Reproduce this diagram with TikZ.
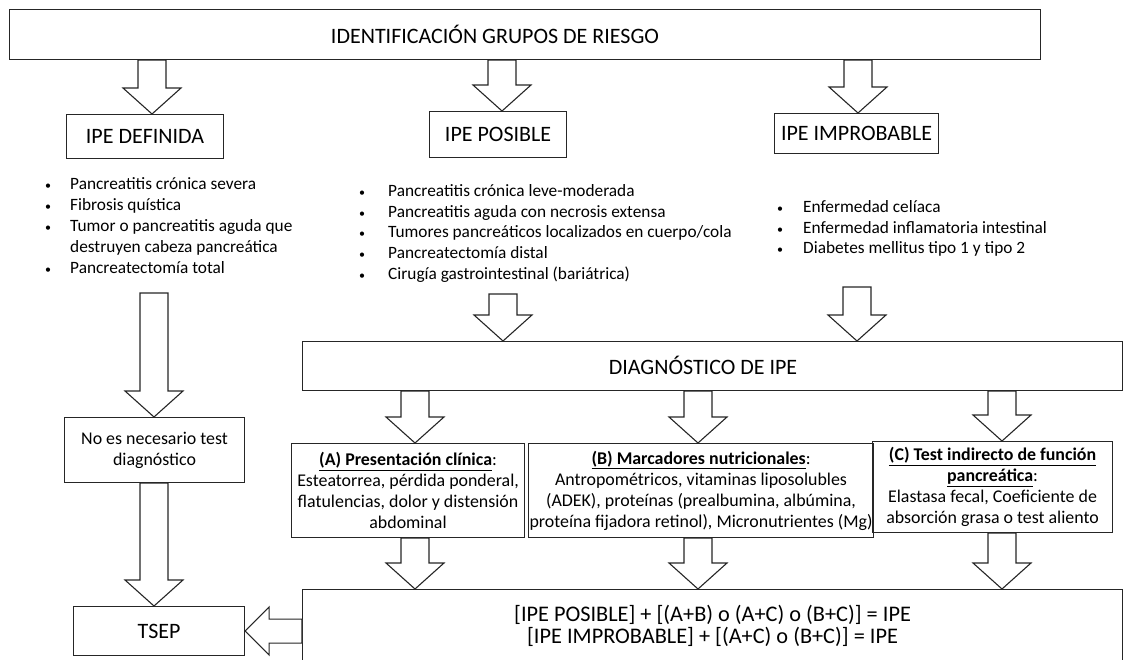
\documentclass[tikz,border=0pt]{standalone}
\usepackage{fontspec}
\setmainfont{Carlito}
\usepackage{tikz}
\usetikzlibrary{calc}

\newcommand{\headtxt}{\fontsize{22}{22}\selectfont}
\newcommand{\listtxt}{\fontsize{17.3}{21}\selectfont}
\newcommand{\boxtxt}{\fontsize{17.9}{21}\selectfont}

\tikzset{
  box/.style={draw=black!85, line width=1.1pt, inner sep=1pt, align=center, anchor=north west},
  blockdown/.style={draw=black!85, line width=1.1pt, fill=white,
    to path={let \p1=(\tikztostart), \p2=(\tikztotarget) in
      (\x2-14pt,\y1) -- (\x2-14pt,\y2+26pt) -- (\x2-29pt,\y2+26pt) -- (\x2,\y2)
      -- (\x2+29pt,\y2+26pt) -- (\x2+14pt,\y2+26pt) -- (\x2+14pt,\y1) -- cycle}},
  blockleft/.style={draw=black!85, line width=1.1pt, fill=white,
    to path={let \p1=(\tikztostart), \p2=(\tikztotarget) in
      (\x1,\y2+12pt) -- (\x2+24pt,\y2+12pt) -- (\x2+24pt,\y2+24pt) -- (\x2,\y2)
      -- (\x2+24pt,\y2-24pt) -- (\x2+24pt,\y2-12pt) -- (\x1,\y2-12pt) -- cycle}},
  bul/.style={font=\fontsize{12}{12}\selectfont, anchor=base},
  item/.style={font=\listtxt, anchor=base west, inner sep=0pt}
}

\begin{document}
\begin{tikzpicture}[x=1pt,y=-1pt]
  \useasboundingbox (0,0) rectangle (1125,659);

  % boxes
  \node[box, minimum width=1031, minimum height=50] (ident) at (9,9) {};
  \node[font=\headtxt] (identtxt) at (495,34) {IDENTIFICACIÓN GRUPOS DE RIESGO};
  \node[box, font=\headtxt, minimum width=157, minimum height=44] (defi) at (66,114) {IPE DEFINIDA};
  \node[box, font=\headtxt, minimum width=137, minimum height=46] (posi) at (429,111) {IPE POSIBLE};
  \node[box, font=\headtxt, minimum width=164, minimum height=40] (impro) at (774,113) {IPE IMPROBABLE};

  % lists
  \node[bul] (d1) at (48,189.5) {\textbullet};
  \node[item] (dt1) at (70,189.5) {Pancreatitis crónica severa};
  \node[bul] (d2) at (48,210.5) {\textbullet};
  \node[item] (dt2) at (70,210.5) {Fibrosis quística};
  \node[bul] (d3) at (48,231.5) {\textbullet};
  \node[item] (dt3) at (70,231.5) {Tumor o pancreatitis aguda que};
  \node[item] (dt4) at (70,252.5) {destruyen cabeza pancreática};
  \node[bul] (d5) at (48,273.5) {\textbullet};
  \node[item] (dt5) at (70,273.5) {Pancreatectomía total};

  \node[bul] (p1) at (362,196.5) {\textbullet};
  \node[item] (pt1) at (388,196.5) {Pancreatitis crónica leve-moderada};
  \node[bul] (p2) at (362,217.5) {\textbullet};
  \node[item] (pt2) at (388,217.5) {Pancreatitis aguda con necrosis extensa};
  \node[bul] (p3) at (362,237.5) {\textbullet};
  \node[item] (pt3) at (388,237.5) {Tumores pancreáticos localizados en cuerpo/cola};
  \node[bul] (p4) at (362,258.5) {\textbullet};
  \node[item] (pt4) at (388,258.5) {Pancreatectomía distal};
  \node[bul] (p5) at (362,279.5) {\textbullet};
  \node[item] (pt5) at (388,279.5) {Cirugía gastrointestinal (bariátrica)};

  \node[bul] (i1) at (780,212.5) {\textbullet};
  \node[item] (it1) at (803,212.5) {Enfermedad celíaca};
  \node[bul] (i2) at (780,233.5) {\textbullet};
  \node[item] (it2) at (803,233.5) {Enfermedad inflamatoria intestinal};
  \node[bul] (i3) at (780,253.5) {\textbullet};
  \node[item] (it3) at (803,253.5) {Diabetes mellitus tipo 1 y tipo 2};

  \node[box, font=\boxtxt, minimum width=180, minimum height=65] (nonec) at (64,417) {No es necesario test\\diagnóstico};
  \node[box, font=\headtxt, minimum width=171, minimum height=49] (tsep) at (73,606) {TSEP};

  \node[box, minimum width=820, minimum height=49] (diag) at (302,341) {};
  \node[font=\headtxt] (diagtxt) at (703,365.5) {DIAGNÓSTICO DE IPE};

  \node[box, font=\boxtxt, minimum width=233, minimum height=94] (clin) at (291,443)
    {\underline{\textbf{(A) Presentación clínica}}:\\Esteatorrea, pérdida ponderal,\\flatulencias, dolor y distensión\\abdominal};
  \node[box, font=\boxtxt, minimum width=332, minimum height=94] (nutri) at (528,443)
    {\underline{\textbf{(B) Marcadores nutricionales}}:\\Antropométricos, vitaminas liposolubles\\(ADEK), proteínas (prealbumina, albúmina,\\proteína fijadora retinol), Micronutrientes (Mg)};
  \node[box, font=\boxtxt, minimum width=240, minimum height=91] (funct) at (872,441)
    {\underline{\textbf{(C) Test indirecto de función}}\\\underline{\textbf{pancreática}}:\\Elastasa fecal, Coeficiente de\\absorción grasa o test aliento};

  \node[box, font=\fontsize{22.3}{21.5}\selectfont, minimum width=820, minimum height=73] (res) at (302,589)
    {{[}IPE POSIBLE] + [(A+B) o (A+C) o (B+C)] = IPE\\{[}IPE IMPROBABLE] + [(A+C) o (B+C)] = IPE};

  % arrow positions
  \coordinate (c1) at (152,0);
  \coordinate (c2) at (502,0);
  \coordinate (c3) at (858,0);
  \coordinate (s4) at (154,293);
  \coordinate (s6) at (503,294);
  \coordinate (s7) at (857,287);
  \coordinate (ca) at (415,0);
  \coordinate (cb) at (698,0);
  \coordinate (cc) at (1002,0);

  \draw[blockdown] (ident.south -| c1) to (defi.north -| c1);
  \draw[blockdown] (ident.south -| c2) to (posi.north -| c2);
  \draw[blockdown] (ident.south -| c3) to (impro.north -| c3);

  \draw[blockdown] (s4) to (nonec.north -| s4);
  \draw[blockdown] (nonec.south -| s4) to (tsep.north -| s4);
  \draw[blockdown] (s6) to (diag.north -| s6);
  \draw[blockdown] (s7) to (diag.north -| s7);

  \draw[blockdown] (diag.south -| ca) to (clin.north -| ca);
  \draw[blockdown] (diag.south -| cb) to (nutri.north -| cb);
  \draw[blockdown] (diag.south -| cc) to (funct.north -| cc);
  \draw[blockdown] (clin.south -| ca) to (res.north -| ca);
  \draw[blockdown] (nutri.south -| cb) to (res.north -| cb);
  \draw[blockdown] (funct.south -| cc) to (res.north -| cc);

  \draw[blockleft] (res.west |- tsep.east) to (tsep.east);
\end{tikzpicture}
\end{document}
